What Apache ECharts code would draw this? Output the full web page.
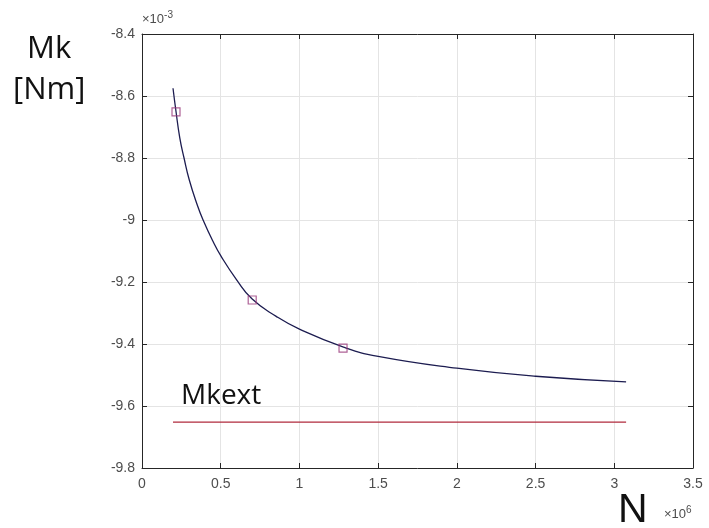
<!DOCTYPE html>
<html>
<head>
<meta charset="utf-8">
<script src="https://cdn.jsdelivr.net/npm/echarts@6/dist/echarts.min.js"></script>
<style>html,body{margin:0;padding:0;background:#fff;}#c{width:709px;height:528px;}</style>
</head>
<body>
<div id="c"></div>
<script>
// N in units of 1e6, Mk in units of 1e-3 Nm
const curveN  = [0.197, 0.216, 0.24, 0.267, 0.30, 0.35, 0.388, 0.45, 0.50, 0.60, 0.70, 0.85, 1.00, 1.28, 1.50, 2.00, 2.50, 3.075];
const curveMk = [-8.575, -8.650, -8.735, -8.80, -8.87, -8.95, -9.00, -9.068, -9.115, -9.192, -9.255, -9.31, -9.352, -9.41, -9.44, -9.478, -9.504, -9.522];
const markerN  = [0.216, 0.70, 1.277];
const markerMk = [-8.651, -9.258, -9.413];
const mkextN  = [0.197, 3.075];
const mkextMk = [-9.652, -9.652];
const xTicks = {min: 0, max: 3.5, interval: 0.5};
const yTicks = {min: -9.8, max: -8.4, interval: 0.2};

const fmt = v => String(Math.round(v * 10) / 10);
const axisCol = '#262626';
const lblStyle = {color: '#4d4d4d', fontSize: 14, fontFamily: 'Liberation Sans, Arial, sans-serif'};

const chart = echarts.init(document.getElementById('c'));
chart.setOption({
  backgroundColor: '#fff',
  animation: false,
  grid: {left: 142, right: 16, top: 34, bottom: 60},
  xAxis: [
    {type: 'value', min: xTicks.min, max: xTicks.max, interval: xTicks.interval, position: 'bottom',
     axisLine: {show: true, onZero: false, lineStyle: {color: axisCol, width: 1}},
     axisTick: {show: true, inside: true, length: 5, lineStyle: {color: axisCol}},
     axisLabel: Object.assign({formatter: fmt, margin: 9}, lblStyle),
     splitLine: {show: true, lineStyle: {color: '#e4e4e4', width: 1}}},
    {type: 'value', min: xTicks.min, max: xTicks.max, interval: xTicks.interval, position: 'top',
     axisLine: {show: true, onZero: false, lineStyle: {color: axisCol, width: 1}},
     axisTick: {show: true, inside: true, length: 5, lineStyle: {color: axisCol}},
     axisLabel: {show: false}, splitLine: {show: false}}
  ],
  yAxis: [
    {type: 'value', min: yTicks.min, max: yTicks.max, interval: yTicks.interval, position: 'left',
     axisLine: {show: true, onZero: false, lineStyle: {color: axisCol, width: 1}},
     axisTick: {show: true, inside: true, length: 5, lineStyle: {color: axisCol}},
     axisLabel: Object.assign({formatter: fmt, margin: 7}, lblStyle),
     splitLine: {show: true, lineStyle: {color: '#e4e4e4', width: 1}}},
    {type: 'value', min: yTicks.min, max: yTicks.max, interval: yTicks.interval, position: 'right',
     axisLine: {show: true, onZero: false, lineStyle: {color: axisCol, width: 1}},
     axisTick: {show: true, inside: true, length: 5, lineStyle: {color: axisCol}},
     axisLabel: {show: false}, splitLine: {show: false}}
  ],
  series: [
    {type: 'line', name: 'fit', data: curveN.map((n, i) => [n, curveMk[i]]), smooth: 0.5,
     showSymbol: false, lineStyle: {color: '#1c1c50', width: 1.3}, z: 3},
    {type: 'line', name: 'Mkext', data: mkextN.map((n, i) => [n, mkextMk[i]]),
     showSymbol: false, lineStyle: {color: '#b02a3c', width: 1.4}, z: 3},
    {type: 'scatter', name: 'pts', data: markerN.map((n, i) => [n, markerMk[i]]),
     symbol: 'rect', symbolSize: 8,
     itemStyle: {color: 'rgba(0,0,0,0)', borderColor: '#9a3a7c', borderWidth: 1.2}, z: 4}
  ],
  graphic: [
    {type: 'text', left: 142, top: 10, style: {rich: {b: {fontSize: 13, fill: '#4d4d4d', fontFamily: 'Liberation Sans, Arial'}, s: {fontSize: 10, fill: '#4d4d4d', fontFamily: 'Liberation Sans, Arial', verticalAlign: 'top', padding: [0, 0, 8, 0]}}, text: '{b|×10}{s|-3}'}},
    {type: 'text', left: 27, top: 34, style: {text: 'Mk', fontSize: 31, fill: '#111', fontFamily: 'Open Sans, Noto Sans, sans-serif'}},
    {type: 'text', left: 13, top: 75, style: {text: '[Nm]', fontSize: 31, fill: '#111', fontFamily: 'Open Sans, Noto Sans, sans-serif'}},
    {type: 'text', left: 181, top: 382, style: {text: 'Mkext', fontSize: 28, fill: '#111', fontFamily: 'Open Sans, Noto Sans, sans-serif'}},
    {type: 'text', left: 618, top: 490, style: {text: 'N', fontSize: 41, fill: '#111', fontFamily: 'Liberation Sans, Arial, sans-serif'}},
    {type: 'text', left: 664, top: 505, style: {rich: {b: {fontSize: 13, fill: '#4d4d4d', fontFamily: 'Liberation Sans, Arial'}, s: {fontSize: 10, fill: '#4d4d4d', fontFamily: 'Liberation Sans, Arial', verticalAlign: 'top', padding: [0, 0, 8, 0]}}, text: '{b|×10}{s|6}'}}
  ]
});
</script>
</body>
</html>
